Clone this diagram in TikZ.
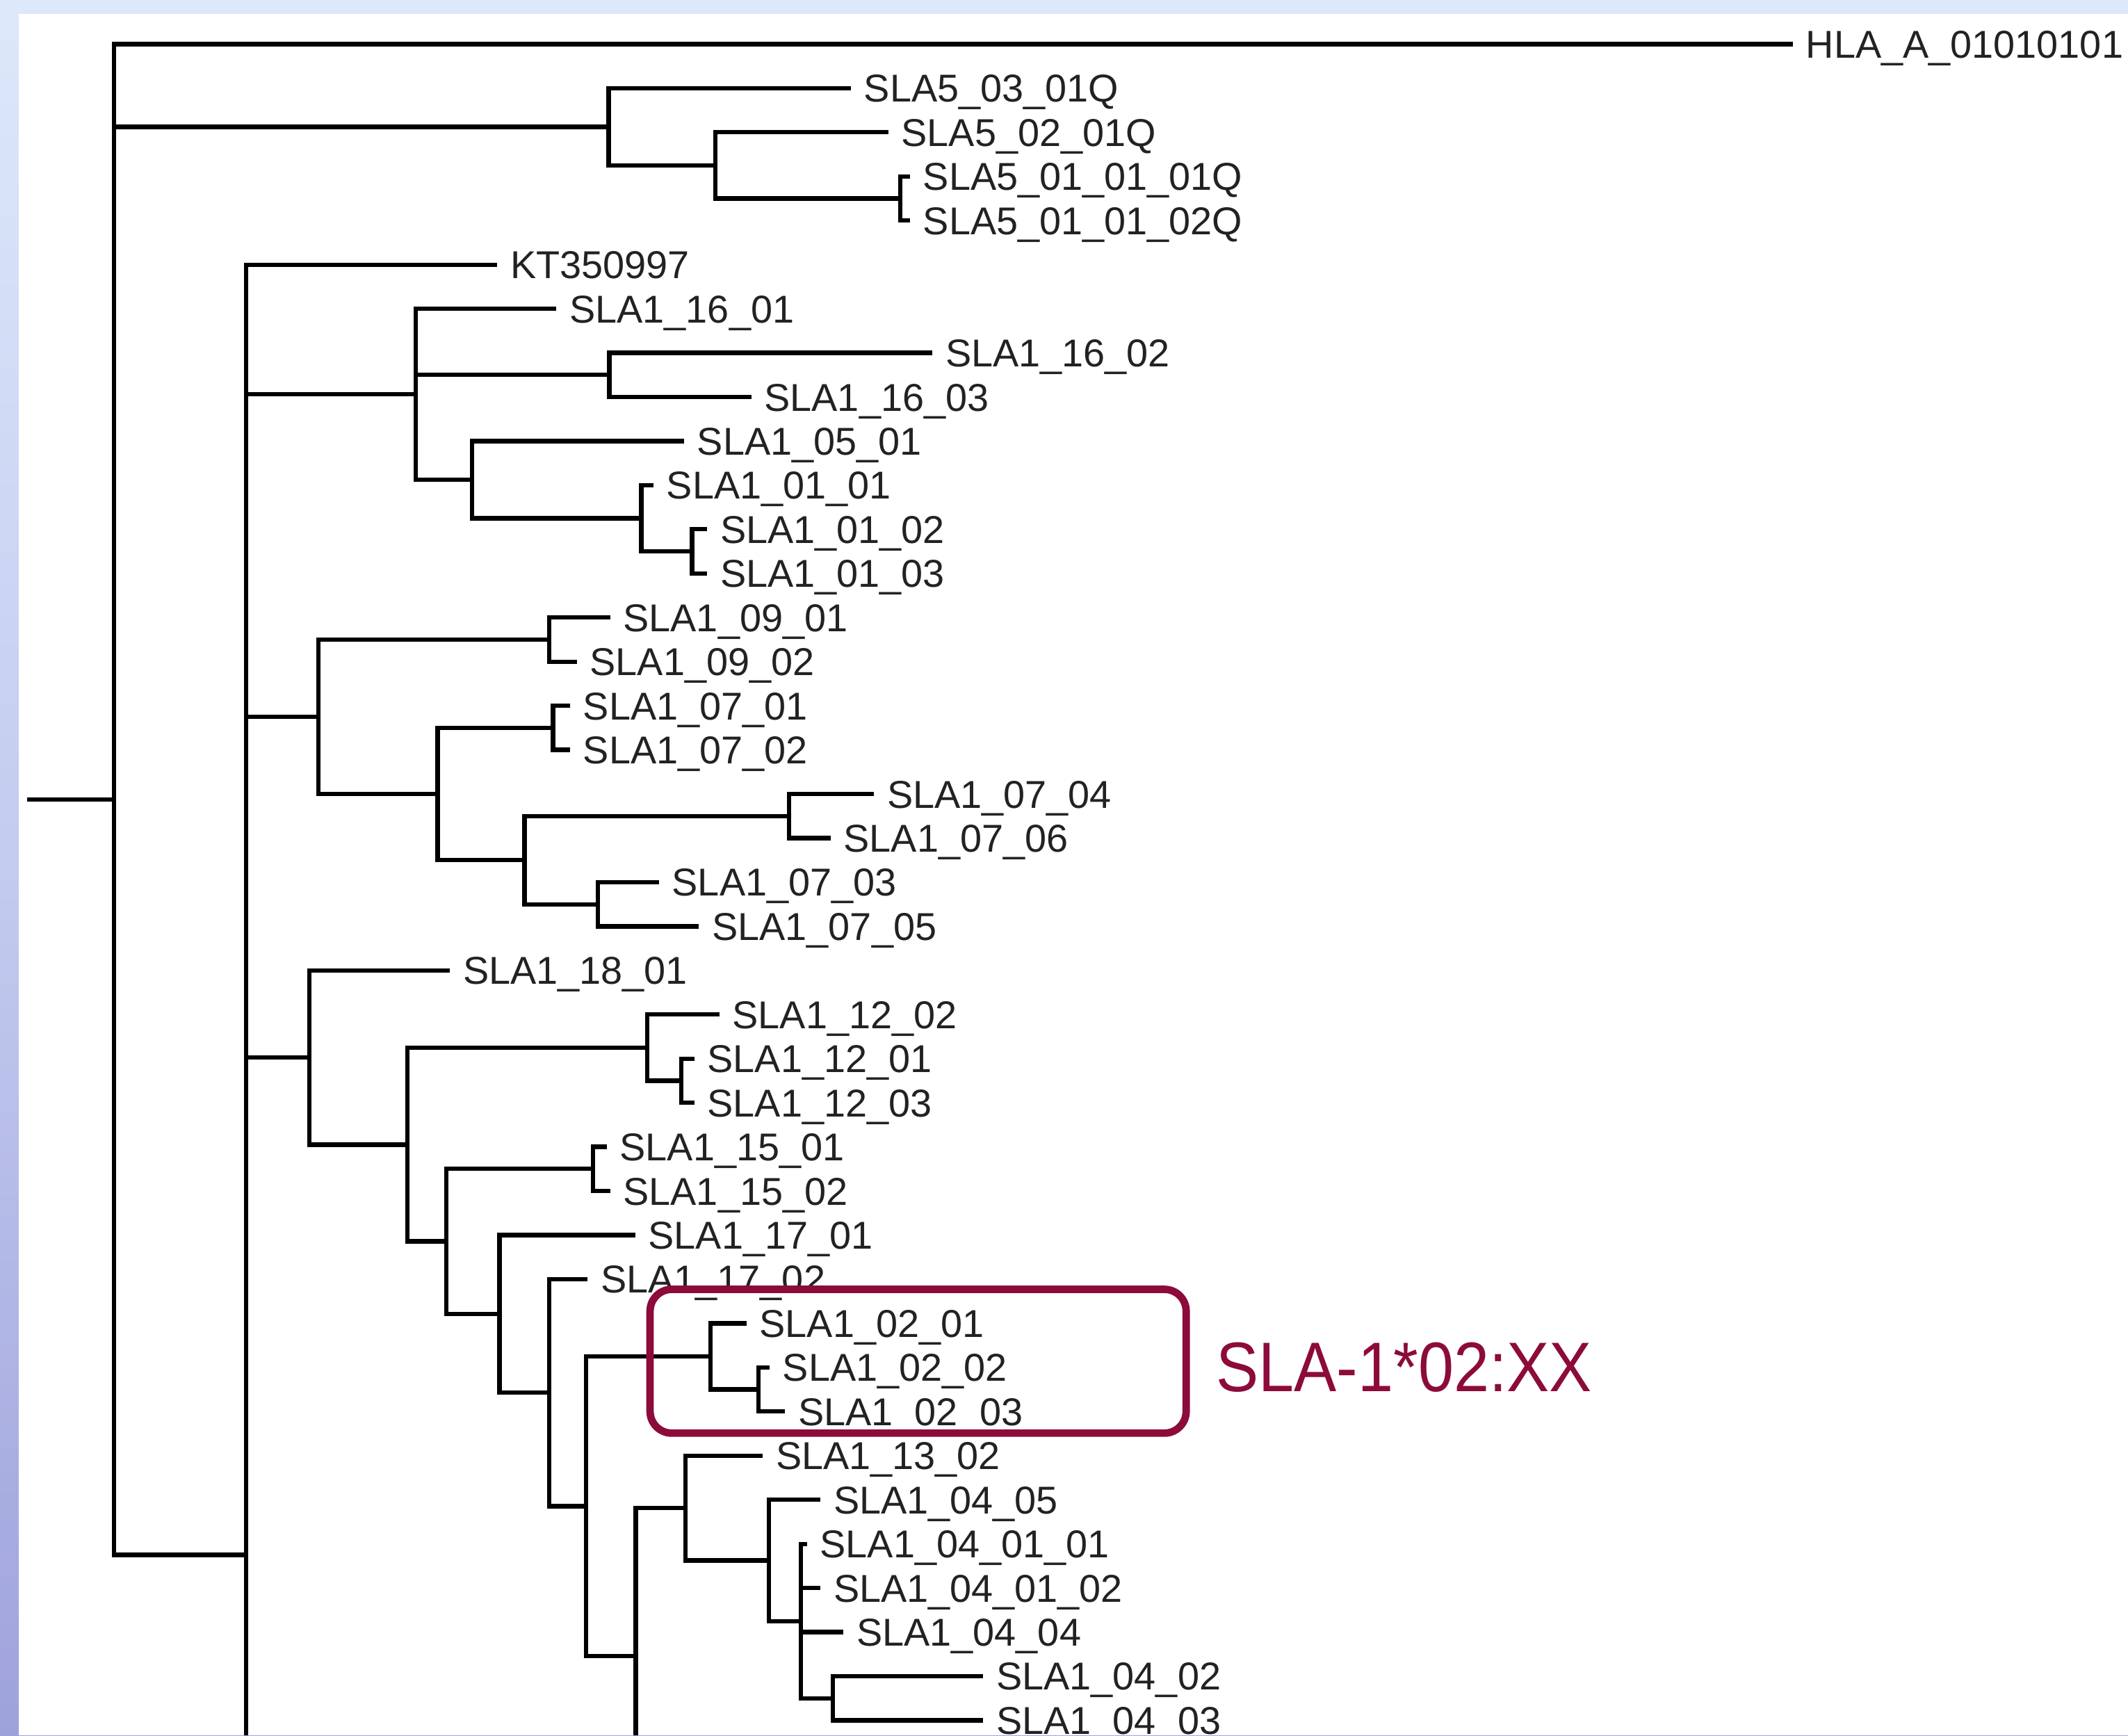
\documentclass[tikz,border=0pt]{standalone}
\usepackage{fontspec}
\setmainfont{Liberation Sans}
\definecolor{bgtop}{HTML}{DDE8FA}
\definecolor{bgmid}{HTML}{C3CBEF}
\definecolor{bgbot}{HTML}{9EA2DB}
\definecolor{boxred}{HTML}{8C0B3B}
\definecolor{lbl}{HTML}{222222}
\begin{document}
\begin{tikzpicture}[x=1pt,y=-32.5pt,
  br/.style={line width=3.2pt,draw=black,line join=miter},
  leaf/.style={anchor=west,inner xsep=9.5pt,inner ysep=0pt,text height=20.5pt,text depth=0pt,
    font=\fontsize{28.6}{30}\selectfont,text=lbl},
  hibox/.style={draw=boxred,line width=5.5pt,rounded corners=16pt},
]
\useasboundingbox (0,0) rectangle (1568,39.342);
% background
\shade[top color=bgtop,bottom color=bgbot,middle color=bgmid] (0,0) rectangle (1568,39.342);
\fill[bgtop] (0,0) rectangle (1568,0.31);
\fill[white] (14,0.31) rectangle (1568,39.342);

% internal nodes
\coordinate (stub) at (20,18.125);
\coordinate (root) at (84,18.125);
\coordinate (n448) at (448.5,2.875);
\coordinate (n525) at (527,3.75);
\coordinate (n665) at (663.5,4.5);
\coordinate (n181) at (181.5,35.25);
\coordinate (c181) at (181.5,39.342);
\coordinate (n305) at (306.5,8.9375);
\coordinate (n448b) at (449,8.5);
\coordinate (n347) at (348,10.875);
\coordinate (n472) at (472.5,11.75);
\coordinate (n510) at (510,12.5);
\coordinate (n234) at (234.5,16.25);
\coordinate (n403) at (404.5,14.5);
\coordinate (n322) at (322.5,18);
\coordinate (n409) at (407.5,16.5);
\coordinate (n386) at (386.5,19.5);
\coordinate (n582) at (581.5,18.5);
\coordinate (n440) at (440.5,20.5);
\coordinate (n228) at (228,23.97);
\coordinate (n300) at (300,25.95);
\coordinate (n477) at (477,23.75);
\coordinate (n500) at (502,24.5);
\coordinate (n330) at (329,28.14);
\coordinate (n437) at (437,26.5);
\coordinate (n369) at (368,29.79);
\coordinate (n404) at (404.5,31.57);
\coordinate (n432) at (432,34.145);
\coordinate (n524) at (523.5,30.75);
\coordinate (n561) at (559,31.5);
\coordinate (n469) at (468.5,37.54);
\coordinate (c469) at (468.5,39.342);
\coordinate (n506) at (505,34.1875);
\coordinate (n567) at (566.5,35.375);
\coordinate (n590) at (590,36.75);
\coordinate (n612) at (613.5,38.5);

% leaves
\node[leaf] (hla) at (1321,1) {HLA\_A\_01010101};
\node[leaf] (s5a) at (627,2) {SLA5\_03\_01Q};
\node[leaf] (s5b) at (654.5,3) {SLA5\_02\_01Q};
\node[leaf] (s5c) at (670.5,4) {SLA5\_01\_01\_01Q};
\node[leaf] (s5d) at (670.5,5) {SLA5\_01\_01\_02Q};
\node[leaf] (kt) at (366.5,6) {KT350997};
\node[leaf] (l1601) at (410,7) {SLA1\_16\_01};
\node[leaf] (l1602) at (687,8) {SLA1\_16\_02};
\node[leaf] (l1603) at (553.5,9) {SLA1\_16\_03};
\node[leaf] (l0501) at (504,10) {SLA1\_05\_01};
\node[leaf] (l0101) at (481.5,11) {SLA1\_01\_01};
\node[leaf] (l0102) at (521,12) {SLA1\_01\_02};
\node[leaf] (l0103) at (521,13) {SLA1\_01\_03};
\node[leaf] (l0901) at (449.5,14) {SLA1\_09\_01};
\node[leaf] (l0902) at (425,15) {SLA1\_09\_02};
\node[leaf] (l0701) at (420,16) {SLA1\_07\_01};
\node[leaf] (l0702) at (420,17) {SLA1\_07\_02};
\node[leaf] (l0704) at (644,18) {SLA1\_07\_04};
\node[leaf] (l0706) at (612,19) {SLA1\_07\_06};
\node[leaf] (l0703) at (485.5,20) {SLA1\_07\_03};
\node[leaf] (l0705) at (515,21) {SLA1\_07\_05};
\node[leaf] (l1801) at (331.5,22) {SLA1\_18\_01};
\node[leaf] (l1202) at (530,23) {SLA1\_12\_02};
\node[leaf] (l1201) at (511.5,24) {SLA1\_12\_01};
\node[leaf] (l1203) at (511.5,25) {SLA1\_12\_03};
\node[leaf] (l1501) at (447,26) {SLA1\_15\_01};
\node[leaf] (l1502) at (449.5,27) {SLA1\_15\_02};
\node[leaf] (l1701) at (468,28) {SLA1\_17\_01};
\node[leaf] (l1702) at (433,29) {SLA1\_17\_02};
\node[leaf] (l0201) at (550,30) {SLA1\_02\_01};
\node[leaf] (l0202) at (567,31) {SLA1\_02\_02};
\node[leaf] (l0203) at (578.5,32) {SLA1\_02\_03};
\node[leaf] (l1302) at (562,33) {SLA1\_13\_02};
\node[leaf] (l0405) at (604.5,34) {SLA1\_04\_05};
\node[leaf] (l040101) at (594.5,35) {SLA1\_04\_01\_01};
\node[leaf] (l040102) at (604.5,36) {SLA1\_04\_01\_02};
\node[leaf] (l0404) at (621.5,37) {SLA1\_04\_04};
\node[leaf] (l0402) at (724.5,38) {SLA1\_04\_02};
\node[leaf] (l0403) at (724.5,39) {SLA1\_04\_03};

% branches
\draw[br] (stub) -- (root);
\draw[br] (root) |- (hla.west);
\draw[br] (root) |- (n448);
\draw[br] (root) |- (n181);
\draw[br] (n448) |- (s5a.west);
\draw[br] (n448) |- (n525);
\draw[br] (n525) |- (s5b.west);
\draw[br] (n525) |- (n665);
\draw[br] (n665) |- (s5c.west);
\draw[br] (n665) |- (s5d.west);

\draw[br] (n181) |- (kt.west);
\draw[br] (n181) |- (n305);
\draw[br] (n181) |- (n234);
\draw[br] (n181) |- (n228);
\draw[br] (n181) -- (c181);

\draw[br] (n305) |- (l1601.west);
\draw[br] (n305) |- (n448b);
\draw[br] (n305) |- (n347);
\draw[br] (n448b) |- (l1602.west);
\draw[br] (n448b) |- (l1603.west);
\draw[br] (n347) |- (l0501.west);
\draw[br] (n347) |- (n472);
\draw[br] (n472) |- (l0101.west);
\draw[br] (n472) |- (n510);
\draw[br] (n510) |- (l0102.west);
\draw[br] (n510) |- (l0103.west);

\draw[br] (n234) |- (n403);
\draw[br] (n234) |- (n322);
\draw[br] (n403) |- (l0901.west);
\draw[br] (n403) |- (l0902.west);
\draw[br] (n322) |- (n409);
\draw[br] (n322) |- (n386);
\draw[br] (n409) |- (l0701.west);
\draw[br] (n409) |- (l0702.west);
\draw[br] (n386) |- (n582);
\draw[br] (n386) |- (n440);
\draw[br] (n582) |- (l0704.west);
\draw[br] (n582) |- (l0706.west);
\draw[br] (n440) |- (l0703.west);
\draw[br] (n440) |- (l0705.west);

\draw[br] (n228) |- (l1801.west);
\draw[br] (n228) |- (n300);
\draw[br] (n300) |- (n477);
\draw[br] (n300) |- (n330);
\draw[br] (n477) |- (l1202.west);
\draw[br] (n477) |- (n500);
\draw[br] (n500) |- (l1201.west);
\draw[br] (n500) |- (l1203.west);
\draw[br] (n330) |- (n437);
\draw[br] (n330) |- (n369);
\draw[br] (n437) |- (l1501.west);
\draw[br] (n437) |- (l1502.west);
\draw[br] (n369) |- (l1701.west);
\draw[br] (n369) |- (n404);
\draw[br] (n404) |- (l1702.west);
\draw[br] (n404) |- (n432);
\draw[br] (n432) |- (n524);
\draw[br] (n432) |- (n469);
\draw[br] (n524) |- (l0201.west);
\draw[br] (n524) |- (n561);
\draw[br] (n561) |- (l0202.west);
\draw[br] (n561) |- (l0203.west);
\draw[br] (n469) |- (n506);
\draw[br] (n469) -- (c469);
\draw[br] (n506) |- (l1302.west);
\draw[br] (n506) |- (n567);
\draw[br] (n567) |- (l0405.west);
\draw[br] (n567) |- (n590);
\draw[br] (n590) |- (l040101.west);
\draw[br] (n590) |- (l040102.west);
\draw[br] (n590) |- (l0404.west);
\draw[br] (n590) |- (n612);
\draw[br] (n612) |- (l0402.west);
\draw[br] (n612) |- (l0403.west);

% highlight
\draw[hibox] (479,29.23) rectangle (874,32.49);
\node[anchor=base west,inner sep=0pt,text=boxred,font=\fontsize{47}{50}\selectfont] (tag) at (896,31.54) {\scalebox{1}[1.1]{SLA-1*02:XX}};
\end{tikzpicture}
\end{document}
